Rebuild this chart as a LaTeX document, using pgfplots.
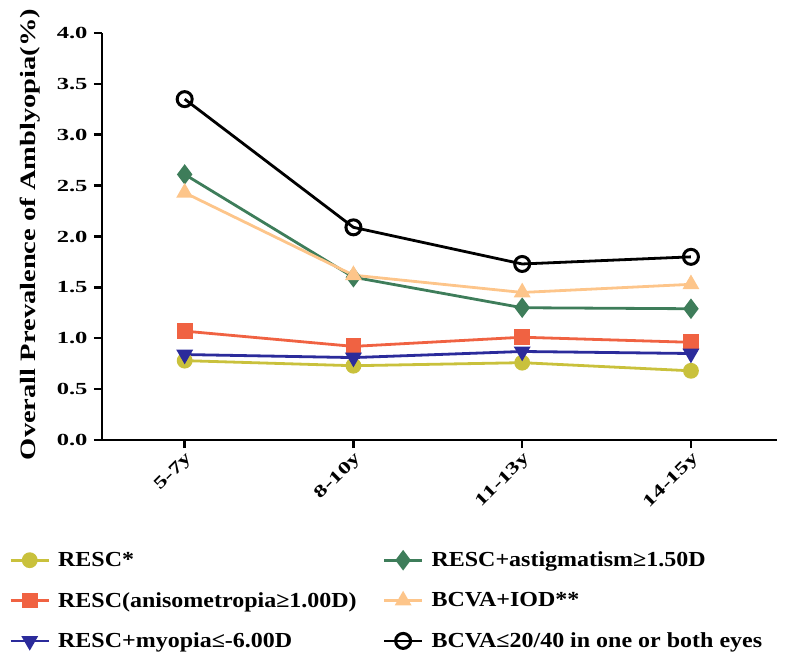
\documentclass[border=0pt]{standalone}
\usepackage{pgfplots}
\pgfplotsset{compat=1.18}
\usepackage{fontspec}
\setmainfont{Liberation Serif}
\newfontfamily\tickfont{Liberation Serif}[FakeStretch=1.45]
\newfontfamily\labfont{Liberation Serif}[FakeStretch=1.3]
\newfontfamily\legfont{Liberation Serif}[FakeStretch=1.12]
\definecolor{cyel}{RGB}{201,193,60}
\definecolor{cred}{RGB}{240,98,66}
\definecolor{cblue}{RGB}{43,43,155}
\definecolor{cgreen}{RGB}{62,125,90}
\definecolor{corange}{RGB}{253,197,138}
\begin{document}
\begin{tikzpicture}[x=1bp,y=1bp]
\path[use as bounding box] (-102,-222) rectangle (685,440);
\begin{axis}[
  scale only axis, width=675bp, height=407bp,
  xmin=-0.49, xmax=3.51, ymin=0, ymax=4,
  axis lines*=left,
  axis line style={line width=2.8bp},
  xtick={0,1,2,3}, xticklabels={5-7y,8-10y,11-13y,14-15y},
  ytick={0,0.5,1,1.5,2,2.5,3,3.5,4},
  tick align=outside, major tick length=8bp,
  tick style={line width=2.5bp, black},
  x tick label style={rotate=45, anchor=north east, inner sep=2bp, font=\tickfont\bfseries\fontsize{17}{20}\selectfont},
  y tick label style={xshift=-3bp, font=\tickfont\bfseries\fontsize{17}{20}\selectfont, /pgf/number format/.cd, fixed, fixed zerofill, precision=1, assume math mode=true},
  ylabel={Overall Prevalence of Amblyopia(\%)},
  ylabel style={font=\labfont\bfseries\fontsize{22}{26}\selectfont, at={(axis description cs:-0.106,0.505)}, anchor=center},
  legend columns=2,
  legend cell align=left,
  legend style={draw=none, fill=none, font=\legfont\bfseries\fontsize{21.5}{24}\selectfont,
    at={(axis description cs:-0.142,-0.265)}, anchor=north west, row sep=20bp,
    /tikz/every odd column/.append style={column sep=6bp},
    /tikz/every even column/.append style={column sep=24bp}},
  legend image code/.code={\draw[mark repeat=2,mark phase=2] plot coordinates {(0bp,0bp)(19bp,0bp)(38bp,0bp)};},
  every axis plot/.append style={line width=2.8bp},
]
\addplot[cyel, mark=*, mark size=6.5bp, mark options={fill=cyel}] coordinates {(0,0.78)(1,0.73)(2,0.76)(3,0.68)};
\addlegendentry{RESC*}
\addplot[cgreen, mark=diamond*, mark size=8bp, mark options={fill=cgreen}] coordinates {(0,2.61)(1,1.60)(2,1.30)(3,1.29)};
\addlegendentry{RESC+astigmatism≥1.50D}
\addplot[cred, mark=square*, mark size=6.5bp, mark options={fill=cred}] coordinates {(0,1.07)(1,0.92)(2,1.01)(3,0.96)};
\addlegendentry{RESC(anisometropia≥1.00D)}
\addplot[corange, mark=triangle*, mark size=7bp, mark options={fill=corange}] coordinates {(0,2.43)(1,1.62)(2,1.45)(3,1.53)};
\addlegendentry{BCVA+IOD**}
\addplot[cblue, mark=triangle*, mark size=7bp, mark options={fill=cblue, rotate=180}] coordinates {(0,0.84)(1,0.81)(2,0.87)(3,0.85)};
\addlegendentry{RESC+myopia≤-6.00D}
\addplot[black, mark=o, mark size=7.5bp, mark options={line width=3bp}] coordinates {(0,3.35)(1,2.09)(2,1.73)(3,1.80)};
\addlegendentry{BCVA≤20/40 in one or both eyes}
\end{axis}
\end{tikzpicture}
\end{document}
